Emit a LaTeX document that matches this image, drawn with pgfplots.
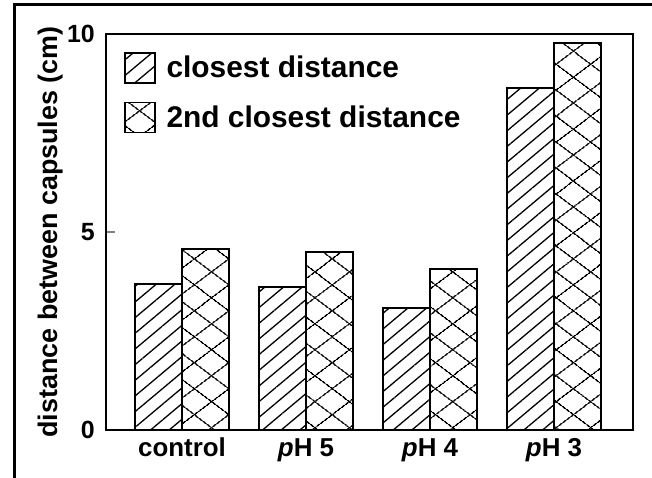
\documentclass[border=0pt]{standalone}
\usepackage{fontspec}
\setmainfont{Liberation Sans}
\usepackage{pgfplots}
\pgfplotsset{compat=1.18}
\usetikzlibrary{patterns.meta}
\begin{document}
\begin{tikzpicture}
\useasboundingbox (0,0) rectangle (652bp,478bp);
\fill[white] (0,0) rectangle (652bp,478bp);
\draw[line width=3bp] (14bp,-5bp) -- (14bp,473bp) -- (660bp,473bp);
\begin{axis}[
  at={(106bp,48bp)}, anchor=south west,
  scale only axis, width=527bp, height=396bp,
  xmin=-0.613, xmax=3.637, ymin=0, ymax=10,
  axis line style={line width=2.2bp},
  ybar=0pt, bar width=0.379,
  xtick={0,1,2,3},
  xticklabels={control,\textit{p}H 5,\textit{p}H 4,\textit{p}H 3},
  xtick style={draw=none},
  xticklabel style={font=\fontsize{26}{30}\selectfont\bfseries, inner sep=0pt, yshift=-8bp},
  ytick={0,5,10}, ytick pos=left, tick align=inside,
  major tick length=9bp,
  ytick style={line width=1.5bp},
  yticklabel style={font=\fontsize{25}{28}\selectfont\bfseries, inner sep=0pt, xshift=-11bp},
  /pgf/number format/assume math mode=true,
  ylabel={distance between capsules (cm)},
  ylabel style={font=\fontsize{27}{30}\selectfont\bfseries, at={(axis description cs:-0.082,0.5)}, anchor=south, rotate=0, inner sep=0pt},
  legend image code/.code={\draw[#1] (0bp,-15bp) rectangle (30bp,15bp);},
  legend style={draw=none, fill=none, at={(axis description cs:0.034,0.9545)}, anchor=north west,
    inner sep=0pt, row sep=18bp,
    nodes={inner sep=0pt, font=\fontsize{30}{34}\selectfont\bfseries},
    /tikz/every odd column/.append style={column sep=11bp}},
  legend cell align=left,
]
\addplot[draw=black, line width=1.4bp, pattern={Lines[angle=40,distance=12bp,line width=1.3bp]}]
  coordinates {(0,3.69) (1,3.61) (2,3.08) (3,8.64)};
\addplot[draw=black, line width=1.4bp, pattern={Lines[angle=37,distance=21bp,line width=1.4bp]},
  postaction={pattern={Lines[angle=-37,distance=21bp,line width=1.4bp]}}]
  coordinates {(0,4.57) (1,4.49) (2,4.07) (3,9.77)};
\legend{closest distance,2nd closest distance}
\end{axis}
\end{tikzpicture}
\end{document}
